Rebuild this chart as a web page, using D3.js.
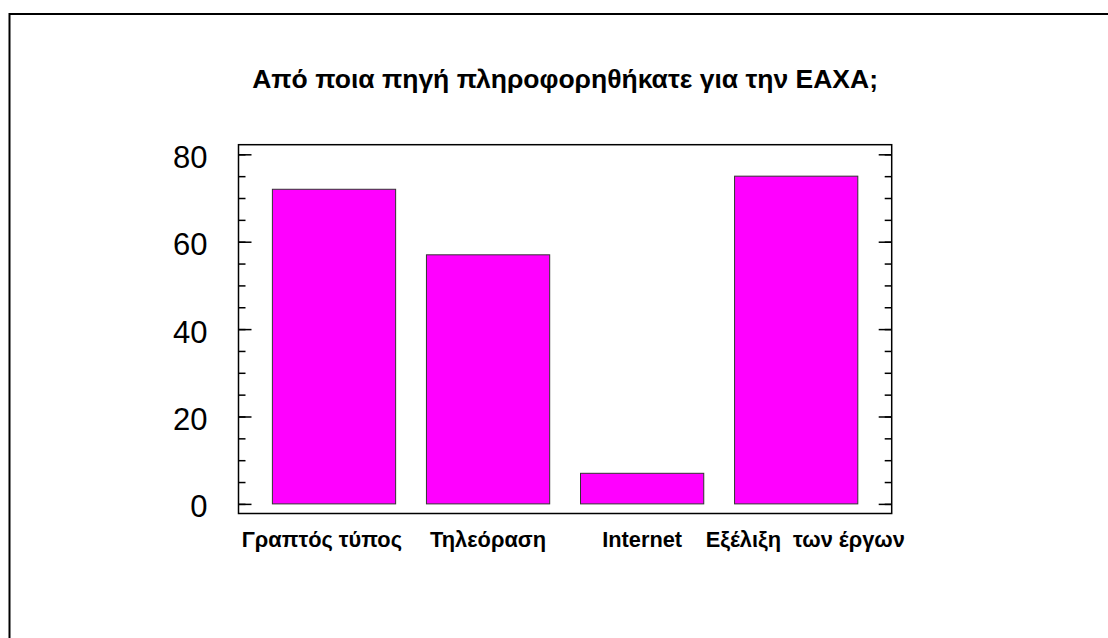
<!DOCTYPE html>
<html>
<head>
<meta charset="utf-8">
<script src="https://cdn.jsdelivr.net/npm/d3@7"></script>
<style>
  html, body { margin: 0; padding: 0; background: #fff; }
  svg { display: block; }
  text { font-family: "Liberation Sans", Arial, sans-serif; }
</style>
</head>
<body>
<svg id="chart" width="1108" height="638"></svg>
<script>
const title = "Από ποια πηγή πληροφορηθήκατε για την ΕΑΧΑ;";
const categories = ["Γραπτός τύπος    ", "Τηλεόραση", "Internet", "   Εξέλιξη  των έργων"];
const values = [72, 57, 7, 75];
const majorTicks = [0, 20, 40, 60, 80];
const minorTicks = [0, 5, 10, 15, 20, 25, 30, 35, 40, 45, 50, 55, 60, 65, 70, 75, 80];

const svg = d3.select("#chart");
const W = 1108, H = 638;
const plot = { left: 238.5, right: 891.7, top: 144.7, bottom: 513.5 };

// outer border
svg.append("rect")
  .attr("x", 9.5).attr("y", 14)
  .attr("width", W + 10).attr("height", H + 10)
  .attr("fill", "#fff").attr("stroke", "#000").attr("stroke-width", 2);

const x = d3.scaleBand()
  .domain(categories)
  .range([plot.left, plot.right])
  .paddingInner(0.2)
  .paddingOuter(0.22);

const y = d3.scaleLinear()
  .domain([-2.2, 82.2])
  .range([plot.bottom, plot.top]);

// title
svg.append("text")
  .attr("x", (plot.left + plot.right) / 2)
  .attr("y", 88)
  .attr("text-anchor", "middle")
  .attr("font-size", 26.5)
  .attr("font-weight", "bold")
  .attr("fill", "#000")
  .text(title);

// bars
svg.append("g").selectAll("rect")
  .data(values)
  .join("rect")
  .attr("x", (d, i) => x(categories[i]))
  .attr("width", x.bandwidth())
  .attr("y", d => y(d))
  .attr("height", d => y(0) - y(d))
  .attr("fill", "#ff00ff")
  .attr("stroke", "#333")
  .attr("stroke-width", 1);

// minor ticks left & right
const minorLeft = svg.append("g")
  .attr("transform", `translate(${plot.left},0)`)
  .call(d3.axisLeft(y).tickValues(minorTicks).tickSize(-7).tickFormat(""));
const minorRight = svg.append("g")
  .attr("transform", `translate(${plot.right},0)`)
  .call(d3.axisRight(y).tickValues(minorTicks).tickSize(-7).tickFormat(""));

// major ticks left (with labels) & right
const majorLeft = svg.append("g")
  .attr("transform", `translate(${plot.left},0)`)
  .call(d3.axisLeft(y).tickValues(majorTicks).tickSize(-13).tickPadding(31).tickFormat(d3.format("d")));
const majorRight = svg.append("g")
  .attr("transform", `translate(${plot.right},0)`)
  .call(d3.axisRight(y).tickValues(majorTicks).tickSize(-13).tickFormat(""));

[minorLeft, minorRight, majorLeft, majorRight].forEach(g => {
  g.select(".domain").remove();
  g.selectAll(".tick line").attr("stroke", "#000").attr("stroke-width", 1.5);
});
majorLeft.selectAll(".tick text")
  .attr("font-family", "'Liberation Sans', Arial, sans-serif")
  .attr("font-size", 31)
  .attr("fill", "#000")
  .attr("dy", "0.42em");

// frame
svg.append("rect")
  .attr("x", plot.left).attr("y", plot.top)
  .attr("width", plot.right - plot.left)
  .attr("height", plot.bottom - plot.top)
  .attr("fill", "none").attr("stroke", "#000").attr("stroke-width", 1.5);

// category labels
svg.append("g").selectAll("text")
  .data(categories)
  .join("text")
  .attr("x", d => x(d) + x.bandwidth() / 2)
  .attr("y", 547)
  .attr("text-anchor", "middle")
  .attr("font-size", 21.8)
  .attr("font-weight", "bold")
  .attr("fill", "#000")
  .style("white-space", "pre")
  .text(d => d);
</script>
</body>
</html>
